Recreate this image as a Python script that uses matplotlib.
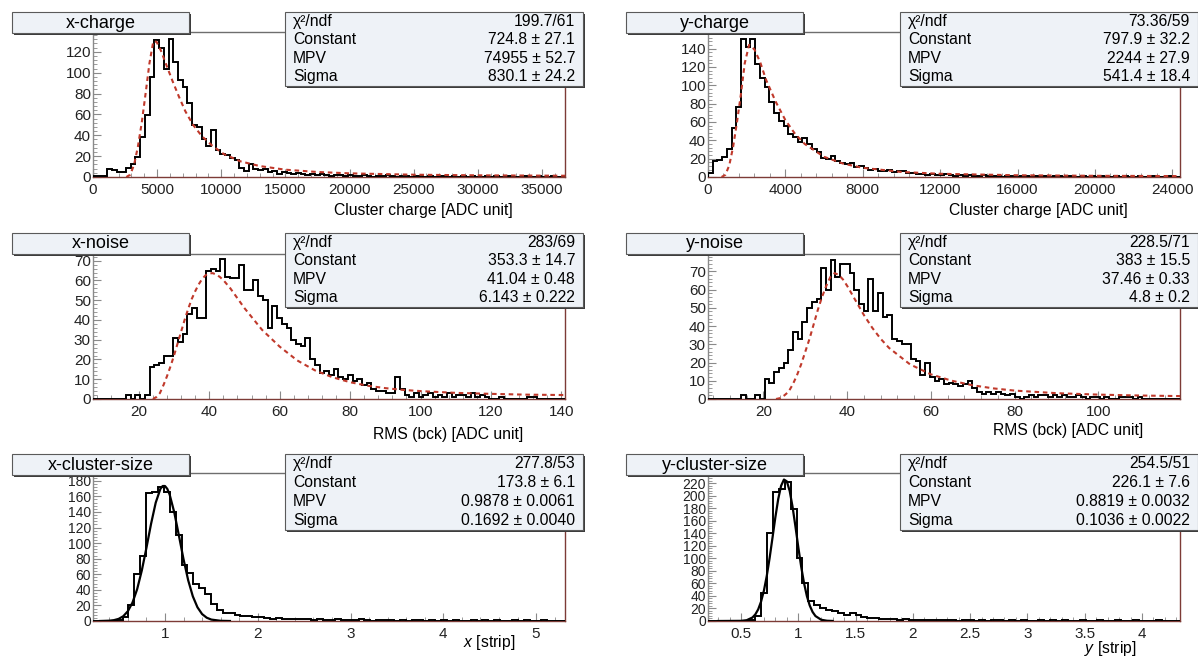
import numpy as np
import matplotlib
matplotlib.use('Agg')
import matplotlib.pyplot as plt
from matplotlib.patches import Rectangle
from matplotlib.ticker import MultipleLocator, AutoMinorLocator

plt.rcParams['font.family'] = ['Liberation Sans', 'DejaVu Sans']
plt.rcParams['mathtext.fontset'] = 'custom'
plt.rcParams['mathtext.rm'] = 'Liberation Sans'
plt.rcParams['mathtext.it'] = 'Liberation Sans:italic'

#%% histogram contents
# x-charge: 100 bins, 0 .. 36800
xq_range = (0, 36800)
xq_counts = [1, 1, 1, 8, 7, 5, 5, 9, 12, 19,
             38, 59, 96, 131, 124, 104, 132, 110, 93, 86,
             71, 50, 48, 36, 30, 45, 26, 22, 21, 18,
             16, 9, 6, 12, 8, 7, 8, 5, 6, 3,
             5, 4, 3, 4, 3, 2, 3, 2, 3, 2,
             1, 2, 2, 1, 2, 1, 1, 2, 1, 0,
             1, 1, 2, 1, 0, 1, 1, 0, 1, 1,
             0, 1, 0, 1, 1, 0, 1, 0, 1, 0,
             1, 0, 0, 1, 0, 1, 0, 0, 1, 0,
             0, 1, 0, 0, 1, 0, 0, 1, 0, 0]
xq_fit_x = [2600, 2900, 3200, 3500, 3800, 4100, 4400, 4700, 4955, 5300, 5700, 6200, 6700,
            7200, 7800, 8500, 9300, 10200, 11500, 13000, 15000, 17500, 20000, 25000, 30000, 36800]
xq_fit_y = [0, 2.2, 11.6, 29, 52, 80, 109, 130, 129.6, 121, 108, 92, 77,
            63, 50, 39, 30, 22, 15, 10.5, 7, 4.8, 3.5, 2.2, 1.6, 1.2]

# y-charge: 100 bins, 0 .. 24400
yq_range = (0, 24400)
yq_counts = [4, 17, 19, 22, 30, 53, 76, 150, 142, 150,
             123, 108, 98, 82, 70, 61, 56, 47, 44, 38,
             42, 36, 30, 27, 21, 20, 23, 17, 15, 14,
             15, 11, 12, 10, 8, 9, 7, 6, 8, 5,
             6, 7, 4, 4, 3, 3, 2, 3, 2, 2,
             3, 2, 1, 2, 1, 2, 1, 1, 2, 1,
             1, 1, 0, 1, 1, 0, 1, 1, 0, 1,
             0, 1, 0, 1, 1, 0, 1, 0, 0, 1,
             0, 1, 0, 1, 0, 0, 1, 0, 1, 0,
             0, 1, 0, 0, 1, 0, 0, 1, 0, 0]
yq_fit_x = [700, 900, 1100, 1300, 1500, 1700, 1900, 2124, 2400, 2700, 3000, 3500, 4000,
            4500, 5000, 6000, 7000, 8000, 10000, 12000, 16000, 20000, 24400]
yq_fit_y = [0, 2.4, 12.8, 33, 60, 90, 124, 144, 139, 125, 106, 82, 62,
            47, 36, 22, 14.5, 10, 5.5, 3.5, 1.9, 1.3, 1.0]

# x-noise: 100 bins, 7 .. 141
xn_range = (7, 141)
xn_counts = [0, 0, 0, 0, 0, 0, 0, 2, 0, 2,
             0, 2, 16, 17, 18, 22, 22, 31, 29, 33,
             43, 46, 41, 41, 65, 66, 65, 71, 62, 61,
             61, 68, 55, 55, 60, 52, 50, 36, 47, 41,
             38, 36, 30, 28, 27, 31, 20, 17, 13, 14,
             12, 15, 11, 10, 12, 9, 10, 7, 8, 5,
             4, 4, 3, 3, 11, 5, 2, 1, 3, 1,
             2, 3, 1, 2, 1, 3, 1, 2, 2, 1,
             3, 1, 2, 1, 0, 0, 1, 0, 0, 0,
             0, 0, 1, 1, 0, 0, 0, 0, 0, 0]
xn_fit_x = [24, 25, 26, 27, 28, 29, 30, 31, 32, 33, 34, 35, 36, 37, 38, 39, 40, 41, 42, 43, 44,
            46, 48, 50, 55, 60, 65, 70, 75, 80, 85, 90, 95, 100, 110, 120, 130, 141]
xn_fit_y = [0, 1, 3, 7, 11.5, 16.5, 22, 28, 34, 40, 45.5, 50.5, 54.5, 58, 60.8, 62.7, 63.6, 63.7,
            63, 61.8, 60.2, 56, 51, 46, 35, 26.5, 19.5, 14.5, 11, 8.5, 6.7, 5.5, 4.6, 4, 3.1,
            2.6, 2.2, 2]

# y-noise: 100 bins, 6.75 .. 119.5
yn_range = (6.75, 119.5)
yn_counts = [0, 0, 0, 0, 0, 0, 0, 2, 0, 0,
             2, 0, 11, 9, 15, 17, 20, 27, 37, 33,
             42, 50, 53, 55, 72, 60, 76, 67, 74, 74,
             69, 60, 52, 48, 66, 48, 58, 45, 46, 33,
             32, 30, 30, 22, 21, 13, 20, 12, 10, 11,
             8, 9, 8, 7, 8, 10, 6, 4, 3, 4,
             3, 4, 3, 2, 3, 1, 0, 1, 2, 1,
             2, 2, 1, 2, 1, 2, 1, 1, 2, 1,
             0, 1, 1, 0, 1, 0, 0, 1, 1, 1,
             0, 1, 0, 0, 0, 0, 0, 0, 0, 0]
yn_fit_x = [23, 24, 25, 26, 27, 28, 29, 30, 31, 32, 33, 34, 35, 36, 37, 38, 39, 40, 42, 44,
            46, 48, 50, 55, 60, 65, 70, 75, 80, 90, 100, 110, 119.5]
yn_fit_y = [0, 0.5, 2, 4, 8, 13, 19, 26, 33, 41, 49, 56, 62, 67, 69, 68, 65.5, 62, 54, 46,
            39, 33, 28, 19, 13.5, 10, 7.5, 5.8, 4.6, 3.2, 2.4, 1.9, 1.6]

# x-cluster-size: 80 bins, 0.224 .. 5.312
xc_range = (0.224, 5.312)
xc_counts = [0, 0, 0, 0, 1, 5, 20, 60, 84, 164,
             165, 172, 165, 140, 110, 72, 62, 47, 43, 35,
             22, 14, 10, 10, 8, 7, 6, 5, 5, 4,
             3, 4, 2, 3, 2, 2, 2, 1, 2, 1,
             1, 2, 1, 1, 1, 2, 1, 0, 1, 1,
             1, 0, 1, 0, 1, 1, 0, 1, 0, 1,
             0, 1, 0, 0, 1, 0, 1, 0, 1, 0,
             0, 1, 0, 1, 0, 0, 1, 0, 0, 0]
xc_fit_x = [0.3, 0.4, 0.45, 0.5, 0.55, 0.6, 0.65, 0.7, 0.75, 0.8, 0.85, 0.9, 0.95, 0.975, 1.0,
            1.025, 1.05, 1.1, 1.15, 1.2, 1.25, 1.3, 1.35, 1.4, 1.45, 1.5, 1.6, 1.7]
xc_fit_y = [0, 0.4, 1.1, 2.7, 6.1, 12.6, 23.7, 40.9, 64.8, 93.9, 124.8, 151.9, 169.5, 173.3, 173.3,
            169.6, 162.4, 139.5, 109.7, 79.2, 52.3, 31.7, 17.6, 8.9, 4.2, 1.8, 0.25, 0]

# y-cluster-size: 80 bins, 0.212 .. 4.332
yc_range = (0.212, 4.332)
yc_counts = [0, 0, 0, 0, 0, 0, 0, 1, 8, 45,
             140, 205, 210, 222, 178, 100, 60, 32, 25, 20,
             18, 16, 12, 10, 12, 10, 7, 5, 4, 3,
             3, 3, 2, 3, 2, 1, 2, 1, 2, 1,
             1, 1, 0, 1, 1, 0, 1, 0, 1, 1,
             0, 1, 0, 1, 0, 0, 1, 0, 1, 0,
             1, 0, 0, 1, 0, 0, 1, 0, 0, 1,
             0, 0, 1, 0, 0, 0, 1, 0, 0, 0]
yc_fit_x = [0.3, 0.5, 0.55, 0.6, 0.625, 0.65, 0.675, 0.7, 0.725, 0.75, 0.775, 0.8, 0.825, 0.85,
            0.875, 0.9, 0.925, 0.95, 0.975, 1.0, 1.025, 1.05, 1.075, 1.1, 1.125, 1.15, 1.2,
            1.25, 1.3]
yc_fit_y = [0, 0.25, 1.3, 5.6, 10.5, 18.5, 30.8, 48.4, 71.9, 100.6, 132.8, 165.4, 194.5, 215.6,
            225.6, 222.7, 207.4, 182.2, 151, 118, 87.1, 60.6, 39.8, 24.7, 14.4, 7.9, 2.0,
            0.4, 0.05]

# stat box texts
stat_names = ['\u03c7\u00b2/ndf', 'Constant', 'MPV', 'Sigma']
xq_stats = ['199.7/61', '724.8 \u00b1 27.1', '74955 \u00b1 52.7', '830.1 \u00b1 24.2']
yq_stats = ['73.36/59', '797.9 \u00b1 32.2', '2244 \u00b1 27.9', '541.4 \u00b1 18.4']
xn_stats = ['283/69', '353.3 \u00b1 14.7', '41.04 \u00b1 0.48', '6.143 \u00b1 0.222']
yn_stats = ['228.5/71', '383 \u00b1 15.5', '37.46 \u00b1 0.33', '4.8 \u00b1 0.2']
xc_stats = ['277.8/53', '173.8 \u00b1 6.1', '0.9878 \u00b1 0.0061', '0.1692 \u00b1 0.0040']
yc_stats = ['254.5/51', '226.1 \u00b1 7.6', '0.8819 \u00b1 0.0032', '0.1036 \u00b1 0.0022']

#%% layout (pixels)
W, H = 1198, 659
fig = plt.figure(figsize=(W / 100, H / 100), dpi=100)
fig.patch.set_facecolor('white')

col_x = [(93, 565), (708, 1180)]
row_y = [(32, 177), (254, 399), (473, 621)]
title_x = [(12, 189), (626, 803)]
stat_x = [(285, 583), (900, 1198)]
title_y = [(12, 33), (233, 254), (454, 475)]
stat_y = [(12, 86), (233, 307), (454, 530)]

BOX_FC = '#eef2f7'
FIT_RED = '#c0392b'
FRAME_RED = '#7d3b36'


def px_rect(x0, y0, x1, y1):
    return [x0 / W, 1 - y1 / H, (x1 - x0) / W, (y1 - y0) / H]


def draw_box(x0, y0, x1, y1):
    sh = Rectangle(((x0 + 2) / W, 1 - (y1 + 2) / H), (x1 - x0) / W, (y1 - y0) / H,
                   transform=fig.transFigure, facecolor='#3c3c3c', edgecolor='none', zorder=5)
    box = Rectangle((x0 / W, 1 - y1 / H), (x1 - x0) / W, (y1 - y0) / H,
                    transform=fig.transFigure, facecolor=BOX_FC, edgecolor='#5a5a5a',
                    lw=0.8, zorder=6)
    fig.add_artist(sh)
    fig.add_artist(box)


def ftext(x, y, s, **kw):
    fig.text(x / W, 1 - y / H, s, zorder=7, **kw)


panels = [
    dict(name='x-charge', counts=xq_counts, rng=xq_range, fx=xq_fit_x, fy=xq_fit_y, fit='landau',
         stats=xq_stats, col=0, row=0, ylim=139, xstep=5000, ystep=20, xlab='Cluster charge [ADC unit]',
         lab_x=513, lab_y=210),
    dict(name='y-charge', counts=yq_counts, rng=yq_range, fx=yq_fit_x, fy=yq_fit_y, fit='landau',
         stats=yq_stats, col=1, row=0, ylim=158, xstep=4000, ystep=20, xlab='Cluster charge [ADC unit]',
         lab_x=1128, lab_y=210),
    dict(name='x-noise', counts=xn_counts, rng=xn_range, fx=xn_fit_x, fy=xn_fit_y, fit='landau',
         stats=xn_stats, col=0, row=1, ylim=73.4, xstep=20, ystep=10, xlab='RMS (bck) [ADC unit]',
         lab_x=523, lab_y=435),
    dict(name='y-noise', counts=yn_counts, rng=yn_range, fx=yn_fit_x, fy=yn_fit_y, fit='landau',
         stats=yn_stats, col=1, row=1, ylim=79.5, xstep=20, ystep=10, xlab='RMS (bck) [ADC unit]',
         lab_x=1143, lab_y=430),
    dict(name='x-cluster-size', counts=xc_counts, rng=xc_range, fx=xc_fit_x, fy=xc_fit_y, fit='gaus',
         stats=xc_stats, col=0, row=2, ylim=190, xstep=1, ystep=20, xlab=r'$x$ [strip]',
         lab_x=515, lab_y=643),
    dict(name='y-cluster-size', counts=yc_counts, rng=yc_range, fx=yc_fit_x, fy=yc_fit_y, fit='gaus',
         stats=yc_stats, col=1, row=2, ylim=236, xstep=0.5, ystep=20, xlab=r'$y$ [strip]',
         lab_x=1137, lab_y=648),
]

for p in panels:
    c, r = p['col'], p['row']
    ax = fig.add_axes(px_rect(col_x[c][0], row_y[r][0], col_x[c][1], row_y[r][1]))
    edges = np.linspace(p['rng'][0], p['rng'][1], len(p['counts']) + 1)
    ax.stairs(p['counts'], edges, color='black', lw=1.4, zorder=3)
    if p['fit'] == 'landau':
        ax.plot(p['fx'], p['fy'], color=FIT_RED, lw=1.5, ls=(0, (2.2, 1.8)), zorder=4)
    else:
        ax.plot(p['fx'], p['fy'], color='black', lw=1.6, zorder=4)
    ax.set_xlim(*p['rng'])
    ax.set_ylim(0, p['ylim'])

    ax.xaxis.set_major_locator(MultipleLocator(p['xstep']))
    ax.yaxis.set_major_locator(MultipleLocator(p['ystep']))
    ax.xaxis.set_minor_locator(AutoMinorLocator(5))
    ax.yaxis.set_minor_locator(AutoMinorLocator(5))
    ax.tick_params(which='both', direction='in', color='#8a8a8a', labelcolor='#222222')
    ax.tick_params(which='major', length=6, width=0.8)
    ax.tick_params(which='minor', length=3, width=0.6)
    ax.tick_params(axis='x', labelsize=11, pad=4)
    ax.tick_params(axis='y', labelsize=10 if r == 2 else 11, pad=1.5)
    ax.xaxis.set_major_formatter(plt.FuncFormatter(lambda v, pos: f'{v:g}'))

    ax.spines['left'].set_color('#8a8a8a')
    ax.spines['top'].set_color('#6e6e6e')
    ax.spines['bottom'].set_color(FRAME_RED)
    ax.spines['right'].set_color(FRAME_RED)
    for s in ax.spines.values():
        s.set_linewidth(1.0)

    ftext(p['lab_x'], p['lab_y'], p['xlab'], ha='right', va='center', fontsize=11.3)

    # title pave
    tx0, tx1 = title_x[c]
    ty0, ty1 = title_y[r]
    draw_box(tx0, ty0, tx1, ty1)
    ftext((tx0 + tx1) / 2, (ty0 + ty1) / 2 + 0.5, p['name'], ha='center', va='center', fontsize=13)

    # stats pave
    sx0, sx1 = stat_x[c]
    sy0, sy1 = stat_y[r]
    draw_box(sx0, sy0, sx1, sy1)
    row_h = (sy1 - sy0) / 4
    for i, (nm, val) in enumerate(zip(stat_names, p['stats'])):
        yy = sy0 + row_h * (i + 0.5)
        ftext(sx0 + 8, yy, nm, ha='left', va='center', fontsize=11.3)
        ftext(sx1 - 8, yy, val, ha='right', va='center', fontsize=11.3)

fig.savefig('out.png', dpi=100, facecolor='white')
